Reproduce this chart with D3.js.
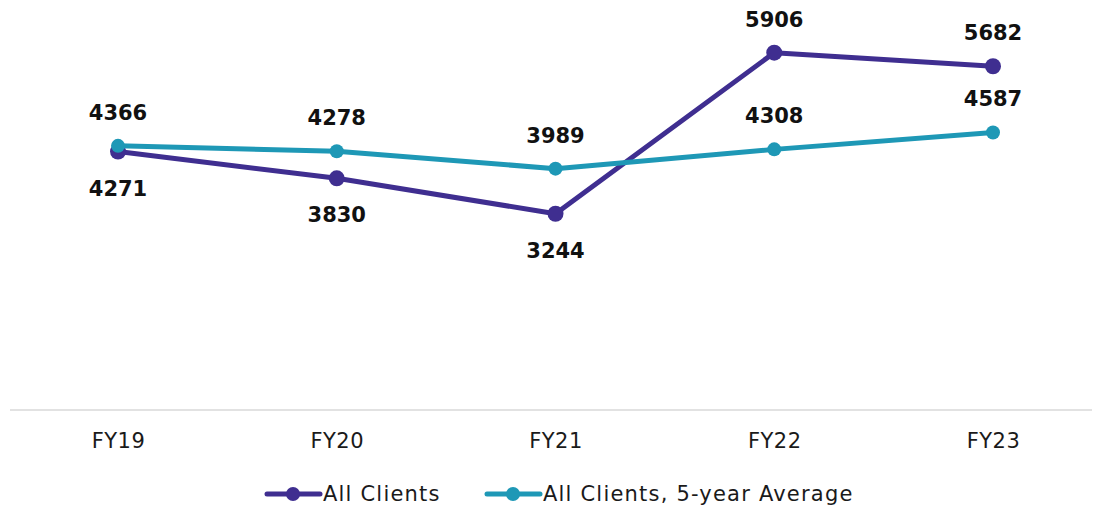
<!DOCTYPE html>
<html>
<head>
<meta charset="utf-8">
<script src="https://cdn.jsdelivr.net/npm/d3@7"></script>
<style>
    body { margin: 0; background: #fff; }
    svg { font-family: "DejaVu Sans", "Noto Sans", sans-serif; display: block; }
</style>
</head>
<body>
<div id="viz"></div>
<script>
const width = 1093;
const height = 510;

// data
const years = ["FY19", "FY20", "FY21", "FY22", "FY23"];
const allClients = [4271, 3830, 3244, 5906, 5682];
const fiveYearAvg = [4366, 4278, 3989, 4308, 4587];
// label placement for "All Clients": below for first three, above after
const allClientsLabelPos = ["below", "below", "below", "above", "above"];

const purple = "#3f2e90";
const teal = "#1e98b6";

const svg = d3.select("#viz")
    .append("svg")
    .attr("width", width)
    .attr("height", height);

const xScale = d3.scalePoint()
    .domain(years)
    .range([118, 993]);

const yScale = d3.scaleLinear()
    .domain([0, 6000])
    .range([410, 47]);

// baseline
svg.append("line")
    .attr("x1", 10)
    .attr("x2", 1092)
    .attr("y1", yScale(0))
    .attr("y2", yScale(0))
    .attr("stroke", "#d9d9d9")
    .attr("stroke-width", 1.5);

// x axis labels
const xAxis = d3.axisBottom(xScale).tickSize(0).tickPadding(23);
const xAxisG = svg.append("g")
    .attr("transform", `translate(0, ${yScale(0)})`)
    .call(xAxis);
xAxisG.select(".domain").remove();
xAxisG.selectAll("text")
    .attr("font-size", 21)
    .attr("letter-spacing", 0.5)
    .attr("font-family", "DejaVu Sans, Noto Sans, sans-serif")
    .attr("fill", "#1a1a1a");

const line = d3.line()
    .x((d, i) => xScale(years[i]))
    .y(d => yScale(d));

const series = [
    {name: "All Clients", values: allClients, color: purple, r: 8},
    {name: "All Clients, 5-year Average", values: fiveYearAvg, color: teal, r: 7}
];

series.forEach(s => {
    svg.append("path")
        .datum(s.values)
        .attr("d", line)
        .attr("fill", "none")
        .attr("stroke", s.color)
        .attr("stroke-width", 5)
        .attr("stroke-linejoin", "round");

    svg.selectAll(null).data(s.values)
        .enter().append("circle")
            .attr("cx", (d, i) => xScale(years[i]))
            .attr("cy", d => yScale(d))
            .attr("r", s.r)
            .attr("fill", s.color);
});

// value labels
const labelG = svg.append("g")
    .attr("font-size", 21)
    .attr("font-weight", "bold")
    .attr("fill", "#111")
    .attr("text-anchor", "middle");

labelG.selectAll(".avg-label").data(fiveYearAvg)
    .enter().append("text")
        .attr("class", "avg-label")
        .attr("x", (d, i) => xScale(years[i]))
        .attr("y", d => yScale(d) - 26)
        .text(d => d);

labelG.selectAll(".all-label").data(allClients)
    .enter().append("text")
        .attr("class", "all-label")
        .attr("x", (d, i) => xScale(years[i]))
        .attr("y", (d, i) => allClientsLabelPos[i] === "above" ? yScale(d) - 26 : yScale(d) + 44)
        .text(d => d);

// legend
const legendX = [265, 485];
const legend = svg.append("g")
    .attr("transform", "translate(0, 494)");

series.forEach((s, i) => {
    const lg = legend.append("g")
        .attr("transform", `translate(${legendX[i]}, 0)`);
    lg.append("line")
        .attr("x1", 2).attr("x2", 55)
        .attr("stroke", s.color)
        .attr("stroke-width", 5)
        .attr("stroke-linecap", "round");
    lg.append("circle")
        .attr("cx", 28)
        .attr("r", 7)
        .attr("fill", s.color);
    lg.append("text")
        .attr("x", 58)
        .attr("dy", "0.35em")
        .attr("font-size", 21)
        .attr("letter-spacing", 1.2)
        .attr("fill", "#1a1a1a")
        .text(s.name);
});
</script>
</body>
</html>
